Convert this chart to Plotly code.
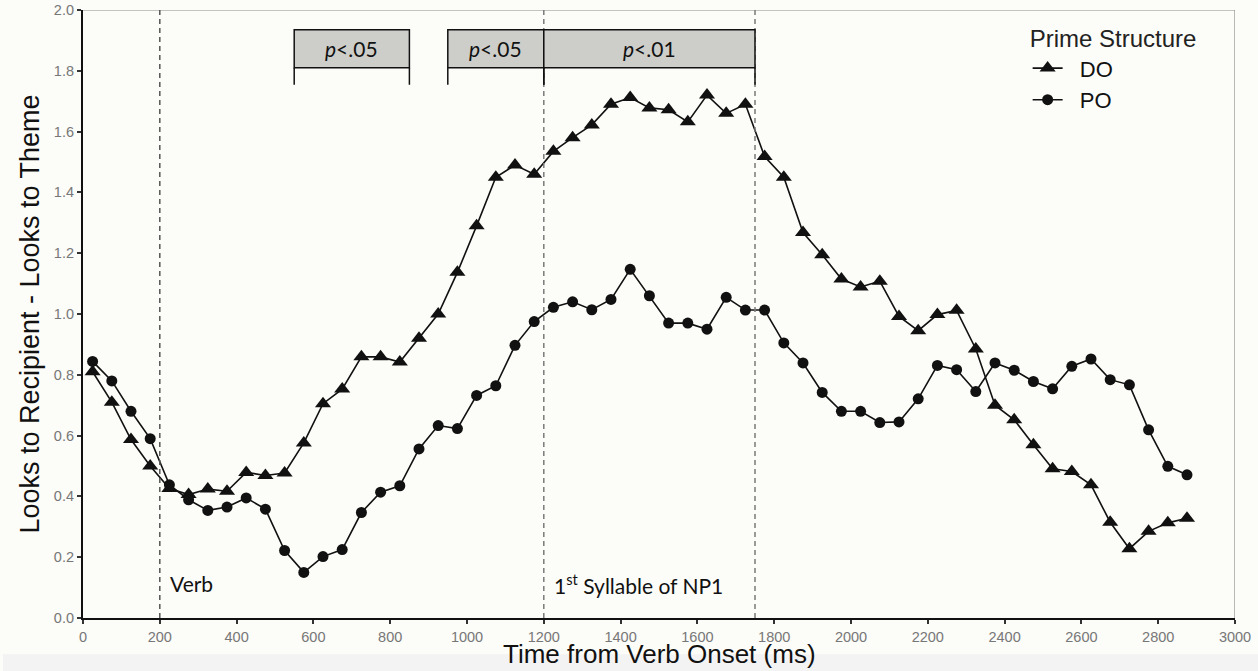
import plotly.graph_objects as go

# Time bins (ms from verb onset), bin centres
time_ms = [25, 75, 125, 175, 225, 275, 325, 375, 425, 475, 525, 575, 625, 675, 725,
           775, 825, 875, 925, 975, 1025, 1075, 1125, 1175, 1225, 1275, 1325, 1375,
           1425, 1475, 1525, 1575, 1625, 1675, 1725, 1775, 1825, 1875, 1925, 1975,
           2025, 2075, 2125, 2175, 2225, 2275, 2325, 2375, 2425, 2475, 2525, 2575,
           2625, 2675, 2725, 2775, 2825, 2875]

# Looks to recipient minus looks to theme, by prime structure
do_prime = [0.81, 0.71, 0.587, 0.50, 0.426, 0.406, 0.424, 0.417, 0.479, 0.469, 0.477,
            0.576, 0.705, 0.753, 0.859, 0.859, 0.842, 0.92, 1.0, 1.137, 1.29, 1.45,
            1.49, 1.46, 1.535, 1.58, 1.622, 1.69, 1.712, 1.678, 1.672, 1.632, 1.72,
            1.66, 1.69, 1.518, 1.45, 1.268, 1.195, 1.115, 1.089, 1.108, 0.992, 0.945,
            0.998, 1.012, 0.885, 0.70, 0.652, 0.57, 0.491, 0.482, 0.438, 0.315, 0.228,
            0.285, 0.313, 0.328]

po_prime = [0.844, 0.78, 0.68, 0.59, 0.438, 0.389, 0.354, 0.365, 0.395, 0.358, 0.222,
            0.15, 0.202, 0.225, 0.347, 0.414, 0.435, 0.556, 0.633, 0.623, 0.732, 0.764,
            0.897, 0.975, 1.022, 1.04, 1.014, 1.048, 1.147, 1.06, 0.97, 0.97, 0.95,
            1.055, 1.013, 1.013, 0.905, 0.839, 0.742, 0.68, 0.68, 0.643, 0.645, 0.721,
            0.831, 0.817, 0.745, 0.839, 0.815, 0.778, 0.754, 0.828, 0.852, 0.784,
            0.767, 0.619, 0.499, 0.471]

# Significance windows (start ms, end ms, label)
sig_windows = [(550, 850, "<i>p</i>&lt;.05"),
               (950, 1200, "<i>p</i>&lt;.05"),
               (1200, 1750, "<i>p</i>&lt;.01")]

# Region boundaries (ms)
boundaries = [200, 1200, 1750]
boundary_labels = [(200, "Verb"), (1200, "1<sup>st</sup> Syllable of NP1")]

x_ticks = list(range(0, 3001, 200))
y_ticks = [0.0, 0.2, 0.4, 0.6, 0.8, 1.0, 1.2, 1.4, 1.6, 1.8, 2.0]

BG = "#fcfcf8"
AXIS_FONT = "Liberation Sans, Arial, sans-serif"
NOTE_FONT = "Lato, Carlito, sans-serif"
NBSP = "\u00a0"

fig = go.Figure()

fig.add_trace(go.Scatter(
    x=time_ms, y=do_prime, name=NBSP * 2 + "DO", mode="lines+markers",
    line=dict(color="#111111", width=1.6),
    marker=dict(symbol="triangle-up", size=14, color="#111111"),
))
fig.add_trace(go.Scatter(
    x=time_ms, y=po_prime, name=NBSP * 2 + "PO", mode="lines+markers",
    line=dict(color="#111111", width=1.6),
    marker=dict(symbol="circle", size=11, color="#111111"),
))

shapes = []
# light strip along the bottom of the page
shapes.append(dict(type="rect", xref="paper", yref="paper", x0=-0.0694, x1=1.03,
                   y0=-0.0595, y1=-0.12, fillcolor="#f3f3f3", line=dict(width=0),
                   layer="below"))
# top and right frame lines
shapes.append(dict(type="line", xref="x", yref="y", x0=0, x1=3000, y0=2.0, y1=2.0,
                   line=dict(color="#8a8a8a", width=1.2)))
shapes.append(dict(type="line", xref="x", yref="y", x0=3000, x1=3000, y0=0, y1=2.0,
                   line=dict(color="#8a8a8a", width=1.2)))

# dashed boundary lines
for i, b in enumerate(boundaries):
    shapes.append(dict(type="line", xref="x", yref="y", x0=b, x1=b, y0=0, y1=2.0,
                       line=dict(color="#555555" if i == 0 else "#7a7a7a",
                                 width=1.5, dash="5px,4px"),
                       layer="above"))

box_top, box_bot, leg_bot = 1.935, 1.81, 1.754
annotations = []
for x0, x1, label in sig_windows:
    shapes.append(dict(type="rect", xref="x", yref="y", x0=x0, x1=x1,
                       y0=box_bot, y1=box_top, fillcolor="#cdcdc9",
                       line=dict(color="#111111", width=1.5)))
    for xe in (x0, x1):
        shapes.append(dict(type="line", xref="x", yref="y", x0=xe, x1=xe,
                           y0=leg_bot, y1=box_bot,
                           line=dict(color="#111111", width=1.5)))
    annotations.append(dict(x=(x0 + x1) / 2, y=(box_top + box_bot) / 2, xref="x",
                            yref="y", text=label, showarrow=False,
                            font=dict(family=NOTE_FONT, size=21, color="#111111")))

for b, label in boundary_labels:
    annotations.append(dict(x=b + 22, y=0.113, xref="x", yref="y", text=label,
                            showarrow=False, xanchor="left", yanchor="middle",
                            font=dict(family=NOTE_FONT, size=21, color="#111111")))

# x-axis title, sitting on the bottom edge of the page
annotations.append(dict(x=0.5, y=0, xref="paper", yref="paper", yshift=-53,
                        text="Time from Verb Onset (ms)", showarrow=False,
                        xanchor="center", yanchor="bottom",
                        font=dict(family=AXIS_FONT, size=26, color="#111111")))

fig.update_layout(
    width=1258, height=671,
    margin=dict(l=83, r=23, t=10, b=53, autoexpand=False),
    paper_bgcolor=BG, plot_bgcolor=BG,
    shapes=shapes, annotations=annotations,
    showlegend=True,
    legend=dict(
        title=dict(text="Prime Structure",
                   font=dict(family=AXIS_FONT, size=24, color="#222222")),
        font=dict(family=AXIS_FONT, size=22, color="#111111"),
        x=0.82, y=0.99, xanchor="left", yanchor="top",
        bgcolor="rgba(0,0,0,0)", itemwidth=30, tracegroupgap=0,
    ),
    xaxis=dict(
        range=[0, 3000], tickvals=x_ticks, ticktext=[str(t) for t in x_ticks],
        showgrid=False, zeroline=False, automargin=False,
        showline=True, linecolor="#111111", linewidth=2.2,
        ticks="outside", ticklen=4, tickwidth=1.5, tickcolor="#333333",
        tickfont=dict(family=AXIS_FONT, size=14.5, color="#777777"),
    ),
    yaxis=dict(
        range=[0, 2.0], tickvals=y_ticks, ticktext=[f"{v:.1f}" for v in y_ticks],
        showgrid=False, zeroline=False, automargin=False,
        showline=True, linecolor="#111111", linewidth=2.2,
        ticks="outside", ticklen=4, tickwidth=1.5, tickcolor="#333333",
        tickfont=dict(family=AXIS_FONT, size=14.5, color="#777777"),
        title=dict(text="Looks to Recipient - Looks to Theme", standoff=6,
                   font=dict(family=AXIS_FONT, size=27, color="#111111")),
    ),
)

fig.write_html("out.html")
